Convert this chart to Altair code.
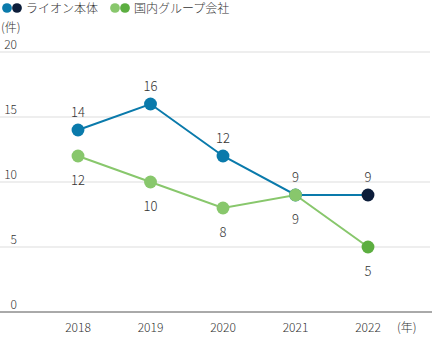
import altair as alt
import pandas as pd

years = [2018, 2019, 2020, 2021, 2022]
lion = [14, 16, 12, 9, 9]
group = [12, 10, 8, 9, 5]
y_ticks = [0, 5, 10, 15, 20]
series_names = ["ライオン本体", "国内グループ会社"]

LION = "#0a7aab"
LION_LAST = "#0c1d3a"
GRN = "#88c76c"
GRN_LAST = "#5cae40"
FONT = "Noto Sans CJK JP"
TXT = "#333333"

rows = []
for i, y in enumerate(years):
    rows.append({"year": y, "value": lion[i], "series": series_names[0],
                 "col": LION_LAST if i == len(years) - 1 else LION})
    rows.append({"year": y, "value": group[i], "series": series_names[1],
                 "col": GRN_LAST if i == len(years) - 1 else GRN})
df = pd.DataFrame(rows)
ticks = pd.DataFrame({"t": y_ticks})
yrs = pd.DataFrame({"year": years})

xs = alt.Scale(domain=[2018, 2022], range=[78, 368])
ys = alt.Scale(domain=[0, 20], range=[312, 52])
X = alt.X("year:Q", scale=xs, axis=None)
Y = alt.Y("value:Q", scale=ys, axis=None)

grid = alt.Chart(ticks).transform_filter("datum.t > 0").mark_rule(
    color="#dddddd", strokeWidth=1
).encode(x=alt.value(0), x2=alt.value(430), y=alt.Y("t:Q", scale=ys, axis=None))

base = alt.Chart(ticks).transform_filter("datum.t == 0").mark_rule(
    color="#555555", strokeWidth=1
).encode(x=alt.value(0), x2=alt.value(432), y=alt.Y("t:Q", scale=ys, axis=None))

ylabels = alt.Chart(ticks).mark_text(
    align="right", baseline="alphabetic", dy=-3, font=FONT, fontSize=12, color=TXT, fontWeight=300
).encode(x=alt.value(17), y=alt.Y("t:Q", scale=ys, axis=None), text="t:Q")

xlabels = alt.Chart(yrs).mark_text(
    align="center", baseline="middle", font=FONT, fontSize=12, color=TXT, fontWeight=300
).encode(x=X, y=alt.value(328), text="year:N")

lines = alt.Chart(df).mark_line(strokeWidth=2).encode(
    x=X, y=Y,
    color=alt.Color("series:N", scale=alt.Scale(domain=series_names, range=[LION, GRN]), legend=None),
    detail="series:N",
)

pts = alt.Chart(df).mark_circle(size=165, opacity=1).encode(
    x=X, y=Y, color=alt.Color("col:N", scale=None)
)

lion_lbl = alt.Chart(df).transform_filter(
    alt.datum.series == series_names[0]
).mark_text(dy=-17, font=FONT, fontSize=13, color=TXT, fontWeight=300).encode(
    x=X, y=Y, text="value:Q"
)
grp_lbl = alt.Chart(df).transform_filter(
    alt.datum.series == series_names[1]
).mark_text(dy=25, font=FONT, fontSize=13, color=TXT, fontWeight=300).encode(
    x=X, y=Y, text="value:Q"
)

# legend
LX = alt.Scale(domain=[0, 432], range=[0, 432])
leg_pts = pd.DataFrame({
    "px": [7, 17, 115, 125],
    "c": [LION, LION_LAST, GRN, GRN_LAST],
})
legend_dots = alt.Chart(leg_pts).mark_circle(size=95, opacity=1).encode(
    x=alt.X("px:Q", scale=LX, axis=None),
    y=alt.value(8),
    color=alt.Color("c:N", scale=None),
)
leg_txt = pd.DataFrame({"px": [26, 134], "label": series_names})
legend_text = alt.Chart(leg_txt).mark_text(
    align="left", baseline="middle", font=FONT, fontSize=12, color=TXT, fontWeight=300
).encode(
    x=alt.X("px:Q", scale=LX, axis=None),
    y=alt.value(9),
    text="label:N",
)

unit_y = alt.Chart(pd.DataFrame({"u": ["(件)"]})).mark_text(
    align="left", baseline="middle", font=FONT, fontSize=12, color=TXT, fontWeight=300
).encode(x=alt.value(1), y=alt.value(28), text="u:N")
unit_x = alt.Chart(pd.DataFrame({"u": ["(年)"]})).mark_text(
    align="left", baseline="middle", font=FONT, fontSize=12, color=TXT, fontWeight=300
).encode(x=alt.value(397), y=alt.value(328), text="u:N")

chart = alt.layer(
    grid, base, ylabels, xlabels, lines, pts, lion_lbl, grp_lbl,
    legend_dots, legend_text, unit_y, unit_x
).properties(
    width=432, height=342, autosize=alt.AutoSizeParams(type="none"), padding=0
).resolve_scale(color="independent", x="independent").configure_view(stroke=None)

chart.save("out.html", embed_options={"renderer": "svg", "actions": False})
